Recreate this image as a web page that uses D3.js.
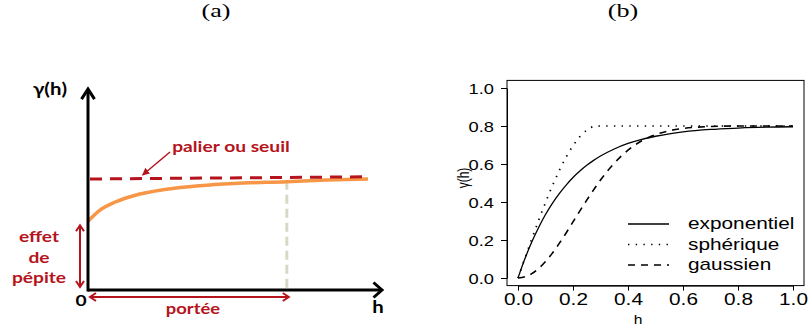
<!DOCTYPE html>
<html>
<head>
<meta charset="utf-8">
<script src="https://cdn.jsdelivr.net/npm/d3@7"></script>
<style>
  body { margin: 0; background: #fff; }
  svg { display: block; }
</style>
</head>
<body>
<script>
// ---- panel (a): schematic variogram
var hA = [0, 0.043, 0.1, 0.16, 0.28, 0.4, 0.52, 0.71, 0.85, 1.0],
    gammaA = [0.62, 0.72, 0.795, 0.847, 0.907, 0.94, 0.96, 0.976, 0.99, 1.0],
    nuggetA = 0.62,
    sillA = [1.0, 1.02],   // sill line, left and right end
    rangeA = 0.71;

// ---- panel (b): the three models
var hB = [0, 0.025, 0.05, 0.075, 0.1, 0.125, 0.15, 0.175, 0.2, 0.225, 0.25, 0.275,
          0.3, 0.35, 0.4, 0.45, 0.5, 0.55, 0.6, 0.7, 0.8, 0.9, 1.0],
    expo = [0, 0.101, 0.189, 0.266, 0.334, 0.393, 0.444, 0.489, 0.529, 0.563, 0.593, 0.619,
            0.642, 0.679, 0.708, 0.730, 0.746, 0.759, 0.769, 0.782, 0.789, 0.794, 0.796],
    spher = [0, 0.103, 0.205, 0.303, 0.397, 0.485, 0.565, 0.636, 0.696, 0.744, 0.778, 0.797,
             0.8, 0.8, 0.8, 0.8, 0.8, 0.8, 0.8, 0.8, 0.8, 0.8, 0.8],
    gauss = [0, 0.006, 0.023, 0.050, 0.087, 0.131, 0.182, 0.237, 0.295, 0.353, 0.410, 0.464,
             0.516, 0.604, 0.673, 0.722, 0.755, 0.775, 0.787, 0.797, 0.800, 0.800, 0.800],
    ticksB = [0, 0.2, 0.4, 0.6, 0.8, 1.0],
    legendNames = ["exponentiel", "sphérique", "gaussien"];

var width = 810, height = 329,
    red = "#b5141c",
    orange = "#f79646";

var svg = d3.select("body").append("svg")
    .attr("width", width)
    .attr("height", height);

// text in the picture is a bit wide, stretch it horizontally
function place(sel, x, y, sx) {
  return sel.attr("x", 0).attr("y", 0)
    .attr("transform", "translate(" + x + "," + y + ") scale(" + sx + ",1)");
}

// titles
place(svg.append("text").text("(a)"), 216, 17, 1.45)
  .attr("text-anchor", "middle").style("font", "18px 'Liberation Serif', serif");
place(svg.append("text").text("(b)"), 623, 17, 1.45)
  .attr("text-anchor", "middle").style("font", "18px 'Liberation Serif', serif");

// ================= panel (a)
var ga = svg.append("g"),
    xa = d3.scaleLinear().domain([0, 1]).range([88, 368]),
    ya = d3.scaleLinear().domain([0, 1]).range([290, 179]);

var fontA = "bold 16px Lato, 'Open Sans', sans-serif";

// open arrow head (chevron) at (x,y), pointing along angle (radians)
function chevron(g, x, y, ang, len, half, color, w) {
  var c = Math.cos(ang), s = Math.sin(ang);
  var bx = x - c * len, by = y - s * len;
  g.append("path")
    .attr("d", "M" + (bx - s * half) + "," + (by + c * half) +
               "L" + x + "," + y +
               "L" + (bx + s * half) + "," + (by - c * half))
    .attr("fill", "none").attr("stroke", color).attr("stroke-width", w)
    .attr("stroke-linejoin", "miter");
}

// range marker
ga.append("line")
    .attr("x1", xa(rangeA)).attr("x2", xa(rangeA))
    .attr("y1", ya(gammaA[7]) - 1).attr("y2", ya(0))
    .attr("stroke", "#d8d8c6").attr("stroke-width", 3)
    .attr("stroke-dasharray", "9,5");

// model curve
ga.append("path")
    .datum(hA.map(function(h, i) { return [h, gammaA[i]]; }))
    .attr("d", d3.line()
        .x(function(d) { return xa(d[0]); })
        .y(function(d) { return ya(d[1]); })
        .curve(d3.curveMonotoneX))
    .attr("fill", "none").attr("stroke", orange).attr("stroke-width", 3.5);

// sill
ga.append("line")
    .attr("x1", xa(0) + 2).attr("x2", xa(1))
    .attr("y1", ya(sillA[0])).attr("y2", ya(sillA[1]))
    .attr("stroke", red).attr("stroke-width", 3)
    .attr("stroke-dasharray", "12,8");

// axes
ga.append("line")
    .attr("x1", xa(0)).attr("x2", xa(0))
    .attr("y1", ya(0) + 1.5).attr("y2", ya(1.81))
    .attr("stroke", "#000").attr("stroke-width", 3);
chevron(ga, xa(0), ya(1.81), -Math.PI / 2, 10, 6.5, "#000", 3);
ga.append("line")
    .attr("x1", xa(0)).attr("x2", xa(1.05))
    .attr("y1", ya(0)).attr("y2", ya(0))
    .attr("stroke", "#000").attr("stroke-width", 3);
chevron(ga, xa(1.05), ya(0), 0, 8.5, 7.5, "#000", 3);

// nugget double arrow
var nx = xa(0) - 8;
ga.append("line")
    .attr("x1", nx).attr("x2", nx)
    .attr("y1", ya(nuggetA) + 4).attr("y2", ya(0) - 3)
    .attr("stroke", red).attr("stroke-width", 2);
chevron(ga, nx, ya(nuggetA) + 4, -Math.PI / 2, 6, 4, red, 2);
chevron(ga, nx, ya(0) - 3, Math.PI / 2, 6, 4, red, 2);

// range double arrow
var ry = ya(0) + 7;
ga.append("line")
    .attr("x1", xa(0) + 2).attr("x2", xa(rangeA) + 2)
    .attr("y1", ry).attr("y2", ry)
    .attr("stroke", red).attr("stroke-width", 2);
chevron(ga, xa(0) + 2, ry, Math.PI, 6, 4, red, 2);
chevron(ga, xa(rangeA) + 2, ry, 0, 6, 4, red, 2);

// pointer to the sill
svg.append("defs").append("marker")
    .attr("id", "tip").attr("viewBox", "0 0 10 10")
    .attr("refX", 9).attr("refY", 5)
    .attr("markerWidth", 5).attr("markerHeight", 5)
    .attr("orient", "auto")
  .append("path").attr("d", "M0,0L10,5L0,10z").attr("fill", red);
ga.append("line")
    .attr("x1", 170).attr("y1", 152)
    .attr("x2", xa(0.195)).attr("y2", ya(sillA[0]) - 4)
    .attr("stroke", red).attr("stroke-width", 1.5)
    .attr("marker-end", "url(#tip)");

// labels
place(ga.append("text").text("palier ou seuil"), 231, 151.5, 1.2)
  .attr("text-anchor", "middle").attr("fill", red).style("font", fontA);
["effet", "de", "pépite"].forEach(function(t, i) {
  place(ga.append("text").text(t), 39, 242 + i * 20.5, 1.2)
    .attr("text-anchor", "middle").attr("fill", red).style("font", fontA);
});
place(ga.append("text").text("portée"), 193, 313.5, 1.15)
  .attr("text-anchor", "middle").attr("fill", red).style("font", fontA);
place(ga.append("text").text("0"), 81, 306, 1.2)
  .attr("text-anchor", "middle").attr("fill", "#000").style("font", fontA);
place(ga.append("text").text("h"), 378, 313, 1.2)
  .attr("text-anchor", "middle").attr("fill", "#000").style("font", "bold 17px Lato, sans-serif");
place(ga.append("text").text("γ(h)"), 50, 95, 1.2)
  .attr("text-anchor", "middle").attr("fill", "#000").style("font", "bold 17px Lato, sans-serif");

// ================= panel (b)
var gb = svg.append("g"),
    xb = d3.scaleLinear().domain([0, 1]).range([518, 793]),
    yb = d3.scaleLinear().domain([0, 1]).range([278, 88]),
    fontB = "'Liberation Sans', Arial, sans-serif";

gb.append("rect")
    .attr("x", xb(-0.04)).attr("y", yb(1.04))
    .attr("width", xb(1.04) - xb(-0.04)).attr("height", yb(-0.04) - yb(1.04))
    .attr("fill", "none").attr("stroke", "#000").attr("stroke-width", 1);

var yAxis = gb.append("g")
    .attr("transform", "translate(" + xb(-0.04) + ",0)")
    .call(d3.axisLeft(yb).tickValues(ticksB).tickSize(6).tickSizeOuter(0)
          .tickFormat(d3.format(".1f")));
yAxis.selectAll("text").each(function() {
  place(d3.select(this), -13, 0, 1.22).attr("dy", "0.36em");
}).style("font", "15px " + fontB).attr("fill", "#000");

var xAxis = gb.append("g")
    .attr("transform", "translate(0," + yb(-0.04) + ")")
    .call(d3.axisBottom(xb).tickValues(ticksB).tickSize(5).tickSizeOuter(0)
          .tickFormat(d3.format(".1f")));
xAxis.selectAll("text").each(function() {
  place(d3.select(this), 0, 19.5, 1.3).attr("dy", 0);
}).style("font", "16px " + fontB).attr("fill", "#000");
gb.selectAll(".domain, .tick line").attr("stroke", "#000");

place(gb.append("text").text("h"), (xb(0) + xb(1)) / 2 + 0.5 - 18, 324, 1.3)
  .attr("text-anchor", "middle").style("font", "12px " + fontB);
gb.append("text").text("γ(h)")
    .attr("transform", "translate(469," + ((yb(0) + yb(1)) / 2 - 5) + ") rotate(-90) scale(1,1.3)")
    .attr("text-anchor", "middle").style("font", "12px " + fontB);

var styles = [
  { dash: null, w: 1.3 },
  { dash: "1.4,6.3", w: 1.7 },
  { dash: "7,6", w: 1.6 }
];
var line = d3.line()
    .x(function(d) { return xb(d[0]); })
    .y(function(d) { return yb(d[1]); })
    .curve(d3.curveMonotoneX);

[expo, spher, gauss].forEach(function(vals, i) {
  gb.append("path")
    .datum(hB.map(function(h, j) { return [h, vals[j]]; }))
    .attr("d", line)
    .attr("fill", "none").attr("stroke", "#000")
    .attr("stroke-width", styles[i].w)
    .attr("stroke-dasharray", styles[i].dash);
});

// legend
var leg = gb.append("g");
legendNames.forEach(function(name, i) {
  var y = 224 + i * 20.5;
  leg.append("line")
    .attr("x1", 628).attr("x2", 669).attr("y1", y).attr("y2", y)
    .attr("stroke", "#000").attr("stroke-width", styles[i].w)
    .attr("stroke-dasharray", styles[i].dash);
  place(leg.append("text").text(name), 688, y + 5, 1.3)
    .style("font", "16px " + fontB);
});
</script>
</body>
</html>
